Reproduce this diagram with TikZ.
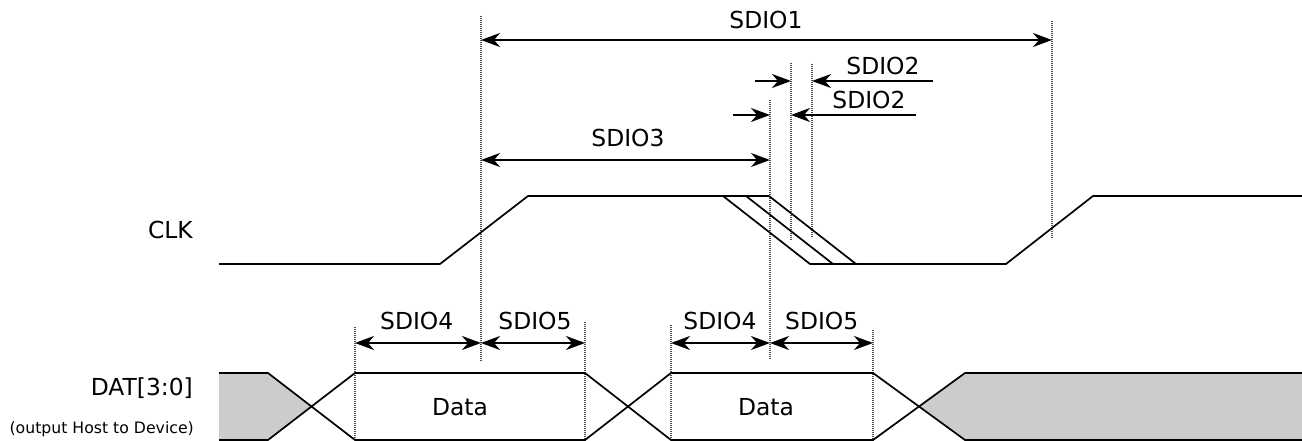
\documentclass[tikz,border=0pt]{standalone}
\usepackage{fontspec}
\setmainfont{DejaVu Sans}
\usetikzlibrary{arrows.meta}
\tikzset{
  sig/.style={line width=1.7pt, line join=miter},
  guide/.style={line width=1.1pt, dash pattern=on 1pt off 1pt, black!70},
  dimboth/.style={line width=1.7pt, arrows={Stealth[length=19pt,width=14pt,inset=6pt]-Stealth[length=19pt,width=14pt,inset=6pt]}},
  dimone/.style={line width=1.7pt, arrows={-Stealth[length=19pt,width=14pt,inset=6pt]}},
  lbl/.style={font=\fontsize{23.4}{28}\selectfont, inner sep=0pt},
  sml/.style={font=\fontsize{15.7}{19}\selectfont, inner sep=0pt},
  busfill/.style={fill=black!20},
}
\begin{document}
\begin{tikzpicture}[x=1pt,y=-1pt]
\useasboundingbox (0,0) rectangle (1302,441);

% named coordinates
\coordinate (g1t) at (481,16);   \coordinate (g1b) at (481,362);
\coordinate (g2t) at (770,100);  \coordinate (g2b) at (770,360);
\coordinate (g3t) at (791,63);   \coordinate (g3b) at (791,240);
\coordinate (g4t) at (812,64);   \coordinate (g4b) at (812,238);
\coordinate (g5t) at (1052,21);  \coordinate (g5b) at (1052,239);
\coordinate (g6t) at (355,327);  \coordinate (g6b) at (355,441);
\coordinate (g7t) at (585,322);  \coordinate (g7b) at (585,441);
\coordinate (g8t) at (671,325);  \coordinate (g8b) at (671,441);
\coordinate (g9t) at (873,330);  \coordinate (g9b) at (873,441);

% bus fills
\fill[busfill] (219,373) -- (268,373) -- (311.5,406.5) -- (268,440) -- (219,440) -- cycle;
\fill[busfill] (919,406.5) -- (965,373) -- (1302,373) -- (1302,440) -- (965,440) -- cycle;

% guides
\foreach \g in {1,...,9} { \draw[guide] (g\g t) -- (g\g b); }

% CLK
\draw[sig] (219,264) -- (440,264) -- (528,196) -- (769,196) -- (856,264) -- (1006,264) -- (1093,196) -- (1302,196);
\draw[sig] (723,196) -- (810,264) -- (856,264);
\draw[sig] (746,196) -- (833,264);

% DAT
\draw[sig] (219,373) -- (268,373) -- (355,440) -- (585,440) -- (671,373) -- (873,373) -- (965,440) -- (1302,440);
\draw[sig] (219,440) -- (268,440) -- (355,373) -- (585,373) -- (671,440) -- (873,440) -- (965,373) -- (1302,373);

% dimension endpoints
\coordinate (s1a) at (481,40);  \coordinate (s1b) at (1052,40);
\coordinate (s3a) at (481,160); \coordinate (s3b) at (770,160);
\coordinate (s2aL) at (755,81); \coordinate (s2aR) at (791,81);
\coordinate (s2aE) at (933,81); \coordinate (s2aF) at (812,81);
\coordinate (s2bL) at (733,115); \coordinate (s2bR) at (770,115);
\coordinate (s2bE) at (916,115); \coordinate (s2bF) at (791,115);
\coordinate (d1) at (355,343); \coordinate (d2) at (481,343); \coordinate (d3) at (585,343);
\coordinate (d4) at (671,343); \coordinate (d5) at (770,343); \coordinate (d6) at (873,343);

\draw[dimboth] (s1a) -- (s1b);
\draw[dimboth] (s3a) -- (s3b);
\draw[dimone] (s2aL) -- (s2aR);
\draw[dimone] (s2aE) -- (s2aF);
\draw[dimone] (s2bL) -- (s2bR);
\draw[dimone] (s2bE) -- (s2bF);
\draw[dimboth] (d1) -- (d2);
\draw[dimboth] (d2) -- (d3);
\draw[dimboth] (d4) -- (d5);
\draw[dimboth] (d5) -- (d6);

% labels
\node[lbl] (l1) at (766,20) {SDIO1};
\node[lbl] (l2a) at (883,66) {SDIO2};
\node[lbl] (l2b) at (869,100) {SDIO2};
\node[lbl] (l3) at (628,138) {SDIO3};
\node[lbl] (l4a) at (416.7,320.5) {SDIO4};
\node[lbl] (l5a) at (535,320.5) {SDIO5};
\node[lbl] (l4b) at (720,320.5) {SDIO4};
\node[lbl] (l5b) at (821.7,320.5) {SDIO5};
\node[lbl] (da) at (460,407) {Data};
\node[lbl] (db) at (766,407) {Data};
\node[lbl, anchor=east] (clk) at (193,230) {CLK};
\node[lbl, anchor=east] (dat) at (193,388) {DAT[3:0]};
\node[sml, anchor=east] (dir) at (194,429) {(output Host to Device)};
\end{tikzpicture}
\end{document}
